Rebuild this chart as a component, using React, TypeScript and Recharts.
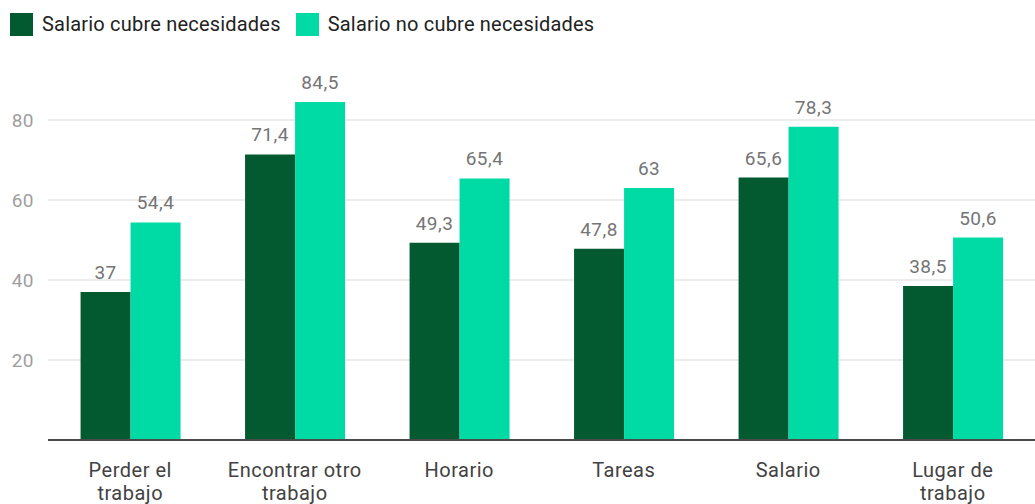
import React from "react";
import { BarChart, Bar, XAxis, YAxis, CartesianGrid, LabelList } from "recharts";

const categories = [
  "Perder el\ntrabajo",
  "Encontrar otro\ntrabajo",
  "Horario",
  "Tareas",
  "Salario",
  "Lugar de\ntrabajo",
];
const cubre = [37, 71.4, 49.3, 47.8, 65.6, 38.5];
const noCubre = [54.4, 84.5, 65.4, 63, 78.3, 50.6];
const yTicks = [20, 40, 60, 80];

const seriesNames = ["Salario cubre necesidades", "Salario no cubre necesidades"];
const colors = ["#035a30", "#00dba6"];

const data = categories.map((c, i) => ({
  name: c,
  cubre: cubre[i],
  noCubre: noCubre[i],
}));

const fmt = (v: any) => String(v).replace(".", ",");

function XTick(props: any) {
  const { x, y, payload } = props;
  const lines = String(payload.value).split("\n");
  return (
    <text x={x} y={y} textAnchor="middle" fill="#424242" fontSize={20} letterSpacing={0.5}>
      {lines.map((l, i) => (
        <tspan key={i} x={x} dy={i === 0 ? 29 : 23}>
          {l}
        </tspan>
      ))}
    </text>
  );
}

function LegendRow() {
  return (
    <div
      style={{
        position: "absolute",
        left: 10,
        top: 12,
        display: "flex",
        alignItems: "center",
        fontSize: 20,
        letterSpacing: 0.2,
        color: "#222",
        fontFamily: "Roboto, sans-serif",
      }}
    >
      {seriesNames.map((n, i) => (
        <div key={n} style={{ display: "flex", alignItems: "center", marginRight: 15 }}>
          <div style={{ width: 23, height: 23, background: colors[i], marginRight: 9 }} />
          <span>{n}</span>
        </div>
      ))}
    </div>
  );
}

export default function App() {
  return (
    <div
      style={{
        position: "absolute",
        left: 0,
        top: 0,
        width: 1035,
        height: 504,
        background: "#fff",
        fontFamily: "Roboto, sans-serif",
      }}
    >
      <LegendRow />
      <BarChart
        width={1035}
        height={504}
        data={data}
        margin={{ top: 40, right: 0, bottom: 0, left: 0 }}
        barCategoryGap="19.8%"
        barGap={0}
      >
        <CartesianGrid vertical={false} horizontalValues={yTicks} stroke="#e6e6e6" strokeWidth={1.5} />
        <XAxis
          dataKey="name"
          height={64}
          interval={0}
          tickLine={false}
          axisLine={{ stroke: "#4a4a4a", strokeWidth: 2 }}
          tick={<XTick />}
        />
        <YAxis
          width={48}
          domain={[0, 100]}
          ticks={yTicks}
          axisLine={false}
          tickLine={false}
          tickMargin={8}
          tick={{ fill: "#9e9e9e", fontSize: 19, letterSpacing: 0.5 }}
        />
        <Bar dataKey="cubre" fill={colors[0]} isAnimationActive={false}>
          <LabelList dataKey="cubre" position="top" offset={13} fill="#757575" fontSize={19} letterSpacing={0.5} formatter={fmt} />
        </Bar>
        <Bar dataKey="noCubre" fill={colors[1]} isAnimationActive={false}>
          <LabelList dataKey="noCubre" position="top" offset={13} fill="#757575" fontSize={19} letterSpacing={0.5} formatter={fmt} />
        </Bar>
      </BarChart>
    </div>
  );
}
